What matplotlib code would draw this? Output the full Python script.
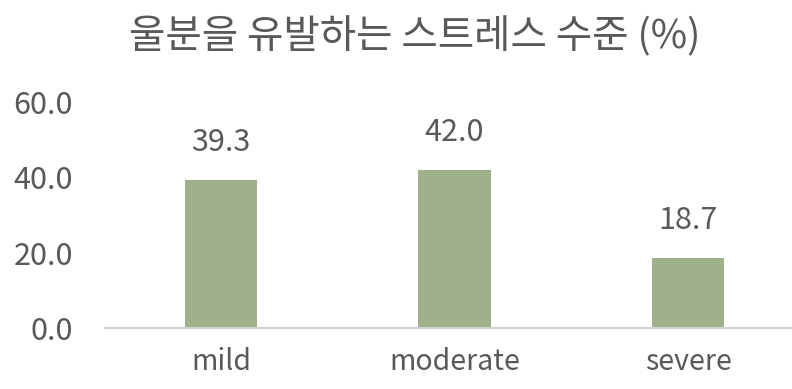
import matplotlib.pyplot as plt

plt.rcParams['font.family'] = ['Noto Sans CJK KR', 'DejaVu Sans']

# 스트레스 수준별 비율 (%)
categories = ['mild', 'moderate', 'severe']
values = [39.3, 42.0, 18.7]
yticks = [0, 20, 40, 60]

text_color = '#595959'
bar_color = '#a0b08b'

fig = plt.figure(figsize=(7.92, 3.89), dpi=100)
ax = fig.add_axes([105 / 792, 61 / 389, 1 - 105 / 792, 226 / 389])

x = list(range(len(categories)))
bars = ax.bar(x, values, width=0.31, color=bar_color)

for xi, v in zip(x, values):
    ax.annotate(f'{v:.1f}', (xi, v), xytext=(0, 27), textcoords='offset points',
                ha='center', va='center', fontsize=22, color=text_color)

ax.set_ylim(0, 60)
ax.set_xlim(-0.497, 2.445)
ax.set_yticks(yticks)
ax.set_yticklabels([f'{t:.1f}' for t in yticks])
ax.set_xticks(x)
ax.set_xticklabels(categories)
ax.tick_params(axis='y', length=0, pad=23, labelsize=22, labelcolor=text_color)
ax.tick_params(axis='x', length=0, pad=14, labelsize=20.5, labelcolor=text_color)

for s in ['top', 'right', 'left']:
    ax.spines[s].set_visible(False)
ax.spines['bottom'].set_color('#d0d0d0')
ax.spines['bottom'].set_linewidth(1.5)

fig.text(415 / 792, 1 - 37 / 389, '울분을 유발하는 스트레스 수준 (%)',
         ha='center', va='center', fontsize=28.5, color=text_color)

fig.savefig('out.png', dpi=100)
